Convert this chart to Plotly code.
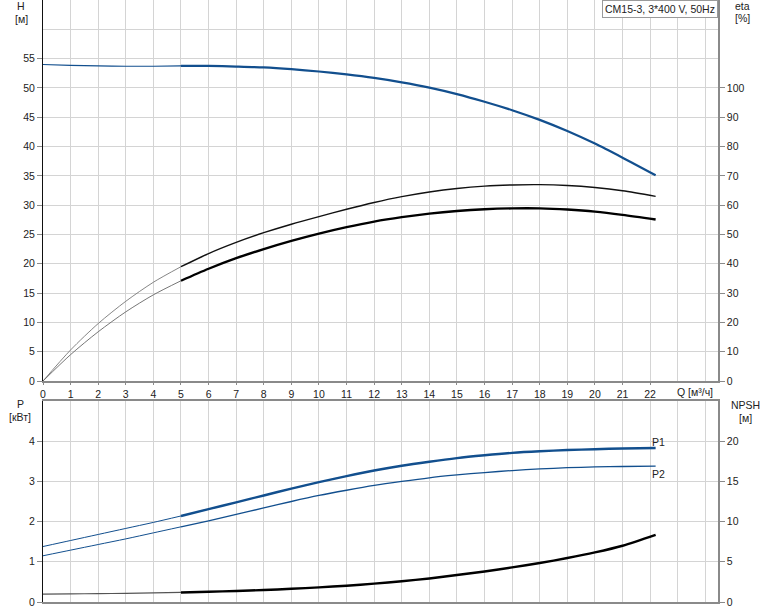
import plotly.graph_objects as go

# ---- data ----
Q = [0, 1, 2, 3, 4, 5, 6, 7, 8, 9, 10, 11, 12, 13, 14, 15, 16, 17, 18, 19, 20, 21, 22.2]
H = [54.0, 53.85, 53.75, 53.7, 53.7, 53.75, 53.75, 53.65, 53.5, 53.2, 52.8, 52.3, 51.7, 50.95, 50.05,
     48.95, 47.65, 46.2, 44.55, 42.65, 40.5, 38.1, 35.1]
ETA_PUMP = [0, 10.6, 19.6, 27.2, 33.7, 39.0, 43.5, 47.3, 50.6, 53.5, 56.1, 58.6, 60.9, 62.9, 64.5,
            65.7, 66.5, 66.9, 67.0, 66.7, 66.0, 64.9, 63.0]
ETA_TOTAL = [0, 9.0, 16.8, 23.6, 29.4, 34.2, 38.3, 41.9, 45.0, 47.8, 50.3, 52.5, 54.4, 55.9, 57.1,
             58.0, 58.6, 58.9, 58.9, 58.5, 57.8, 56.7, 55.1]
P1 = [1.38, 1.53, 1.68, 1.83, 1.98, 2.14, 2.31, 2.48, 2.65, 2.82, 2.98, 3.13, 3.27, 3.39, 3.49,
      3.58, 3.65, 3.71, 3.75, 3.78, 3.80, 3.82, 3.83]
P2 = [1.15, 1.29, 1.43, 1.57, 1.72, 1.87, 2.02, 2.18, 2.34, 2.50, 2.65, 2.78, 2.90, 3.00, 3.09,
      3.16, 3.22, 3.27, 3.31, 3.34, 3.36, 3.37, 3.38]
NPSH = [0.99, 1.01, 1.04, 1.08, 1.13, 1.19, 1.27, 1.37, 1.49, 1.64, 1.82, 2.03, 2.28, 2.58, 2.93,
        3.35, 3.8, 4.3, 4.85, 5.47, 6.17, 7.0, 8.35]

X_TICKS = list(range(0, 23))
H_TICKS = list(range(0, 56, 5))
ETA_TICKS = list(range(0, 101, 10))
P_TICKS = [0, 1, 2, 3, 4]
NPSH_TICKS = [0, 5, 10, 15, 20]

TITLE_TEXT = "CM15-3, 3*400 V, 50Hz"

BLUE = "#124f8e"
FONT = "Liberation Sans, Arial, sans-serif"
TXT = "#222222"
GRID = "#d4d4d4"
AXG = "#8a8a8a"
Q_SPLIT = 5
FS = 10.5

fig = go.Figure()


def add_curve(y, xa, ya, color_thin, color_thick, w_thin, w_thick):
    lo = [(q, v) for q, v in zip(Q, y) if q <= Q_SPLIT]
    hi = [(q, v) for q, v in zip(Q, y) if q >= Q_SPLIT]
    fig.add_trace(go.Scatter(x=[p[0] for p in lo], y=[p[1] for p in lo], mode="lines",
                             line=dict(color=color_thin, width=w_thin, shape="spline", smoothing=0.8),
                             xaxis=xa, yaxis=ya, showlegend=False, hoverinfo="skip"))
    fig.add_trace(go.Scatter(x=[p[0] for p in hi], y=[p[1] for p in hi], mode="lines",
                             line=dict(color=color_thick, width=w_thick, shape="spline", smoothing=0.8),
                             xaxis=xa, yaxis=ya, showlegend=False, hoverinfo="skip"))


add_curve(H, "x", "y", BLUE, BLUE, 1.2, 2.2)
add_curve(ETA_PUMP, "x", "y2", "#777777", "#111111", 0.9, 1.4)
add_curve(ETA_TOTAL, "x", "y2", "#666666", "#000000", 0.9, 2.4)
add_curve(P1, "x2", "y3", BLUE, BLUE, 1.0, 2.4)
add_curve(P2, "x2", "y3", BLUE, BLUE, 1.0, 1.3)
add_curve(NPSH, "x2", "y4", "#555555", "#000000", 1.2, 2.4)

XR = [0, 24.46]
tickfont = dict(family=FONT, size=FS, color=TXT)

fig.update_layout(
    width=774, height=611,
    margin=dict(l=43, r=56, t=0, b=9),
    paper_bgcolor="white", plot_bgcolor="white",
    showlegend=False,
    xaxis=dict(domain=[0, 1], anchor="y", range=XR, tickmode="array", tickvals=X_TICKS,
               showgrid=True, gridcolor=GRID, gridwidth=1,
               minor=dict(tickmode="linear", tick0=0, dtick=1, showgrid=True, gridcolor=GRID, ticks=""),
               showline=True, linecolor=AXG, linewidth=2, ticks="outside", ticklen=2, tickcolor=AXG,
               tickfont=tickfont, zeroline=False, fixedrange=True, automargin=False),
    yaxis=dict(domain=[0.3671, 1], anchor="x", range=[0, 65], tickmode="array", tickvals=H_TICKS,
               showgrid=True, gridcolor=GRID, gridwidth=1,
               minor=dict(tickmode="linear", tick0=0, dtick=5, showgrid=True, gridcolor=GRID, ticks=""),
               showline=True, linecolor="#111111", linewidth=1, ticks="outside", ticklen=5, tickcolor=AXG,
               tickfont=tickfont, zeroline=False, automargin=False),
    yaxis2=dict(overlaying="y", side="right", anchor="x", range=[0, 130], tickmode="array",
                tickvals=ETA_TICKS, showgrid=False, showline=True, linecolor=AXG, linewidth=1.5,
                ticks="outside", ticklen=5, tickcolor=AXG, tickfont=tickfont, zeroline=False,
                automargin=False),
    xaxis2=dict(domain=[0, 1], anchor="y3", range=XR, tickmode="linear", tick0=0, dtick=1,
                showticklabels=False, showgrid=True, gridcolor=GRID, gridwidth=1,
                showline=True, mirror=True, linecolor=AXG, linewidth=2, ticks="", zeroline=False,
                automargin=False),
    yaxis3=dict(domain=[0, 0.3339], anchor="x2", range=[0, 5], tickmode="array", tickvals=P_TICKS,
                showgrid=True, gridcolor=GRID, gridwidth=1,
                showline=True, linecolor="#111111", linewidth=1, ticks="outside", ticklen=5, tickcolor=AXG,
                tickfont=tickfont, zeroline=False, automargin=False),
    yaxis4=dict(overlaying="y3", side="right", anchor="x2", range=[0, 25], tickmode="array",
                tickvals=NPSH_TICKS, showgrid=False, showline=True, linecolor=AXG, linewidth=1.5,
                ticks="outside", ticklen=5, tickcolor=AXG, tickfont=tickfont, zeroline=False,
                automargin=False),
)

labfont = dict(family=FONT, size=FS, color=TXT)


def px_ann(text, x, y, xanchor="center", yanchor="middle", **kw):
    # x, y given in pixels of the 774x611 image
    fig.add_annotation(text=text, xref="paper", yref="paper",
                       x=(x - 43) / 675.0, y=(602 - y) / 602.0,
                       xanchor=xanchor, yanchor=yanchor, showarrow=False,
                       font=labfont, **kw)


px_ann("H", 21, 6)
px_ann("[м]", 21, 19)
px_ann("eta", 742, 6)
px_ann("[%]", 742, 18)
px_ann("P", 20, 404)
px_ann("[кВт]", 20, 417)
px_ann("NPSH", 745, 405)
px_ann("[м]", 745, 418)
px_ann("Q [м³/ч]", 695, 392)
px_ann("P1", 650, 442, xanchor="left")
px_ann("P2", 650, 474, xanchor="left")
fig.add_annotation(text=TITLE_TEXT, xref="paper", yref="paper", x=1, y=1,
                   xanchor="right", yanchor="top", showarrow=False,
                   font=labfont, bgcolor="white", bordercolor="#9a9a9a", borderwidth=1, borderpad=2)

fig.write_html("out.html", config={"displayModeBar": False},
               post_script="document.body.style.margin='0px';document.body.style.padding='0px';")
